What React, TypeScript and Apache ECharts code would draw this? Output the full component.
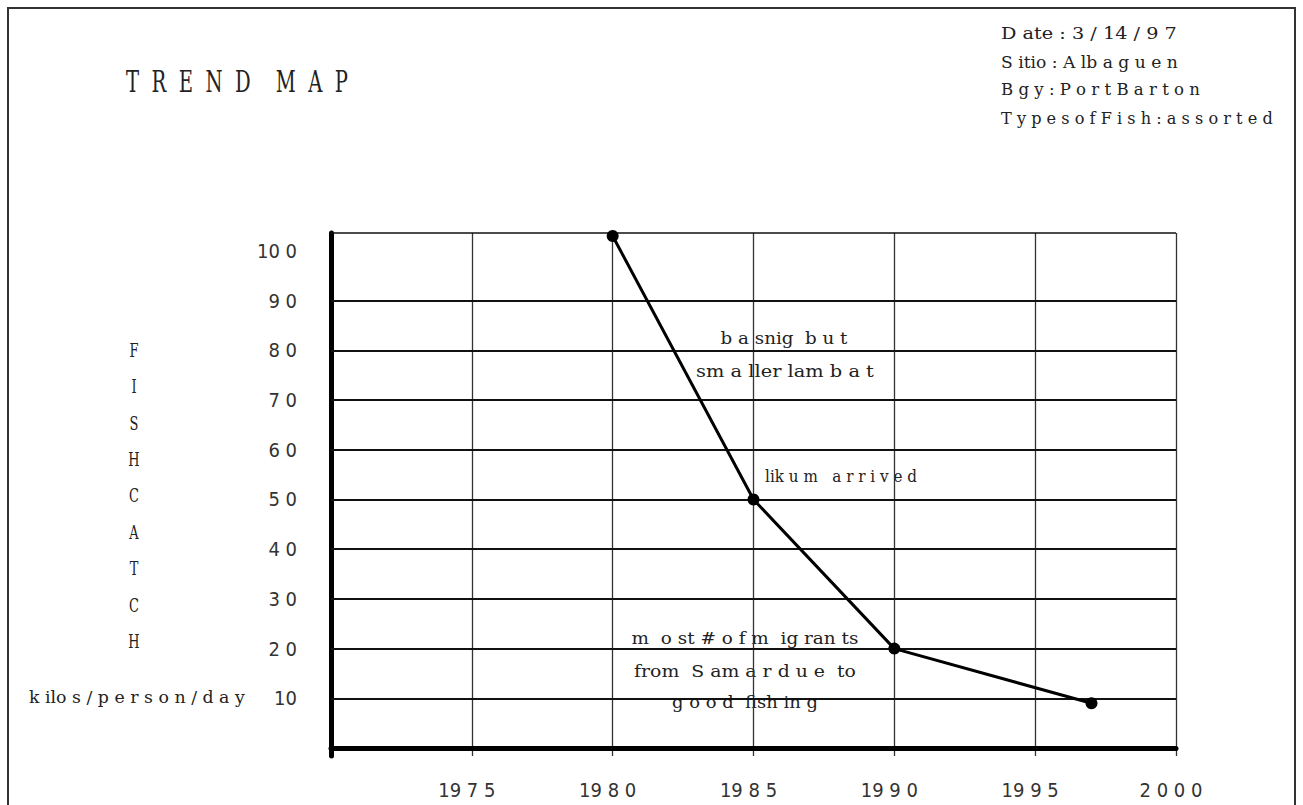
import React, { useEffect, useRef } from "react";
import * as echarts from "echarts";

// ---- data ----
const years = [1980, 1985, 1990, 1997];
const fishCatch = [103, 50, 20, 9];

const xTickValues = [1975, 1980, 1985, 1990, 1995, 2000];
const xTickLabels = ["19 7 5", "19 8 0", "19 8 5", "19 9 0", "19 9 5", "2 0 0 0"];

const yTickValues = [10, 20, 30, 40, 50, 60, 70, 80, 90, 100];
const yTickLabels = ["10", "2 0", "3 0", "4 0", "5 0", "6 0", "7 0", "8 0", "9 0", "10 0"];
const yGridValues = [10, 20, 30, 40, 50, 60, 70, 80, 90];

const yMin = -1.6;
const yMax = 103.6;

const titleText = "T  R  E  N  D    M  A  P";
const infoLines = [
  "D ate : 3 / 14 / 9 7",
  "S itio : A lb a g u e n",
  "B g y : P o r t B a r t o n",
  "T y p e s o f F i s h : a s s o r t e d",
];
const yTitleLetters = ["F", "I", "S", "H", "C", "A", "T", "C", "H"];
const unitText = "k ilo s / p e r s o n / d a y";
const notes = [
  "b a snig  b u t",
  "sm a ller lam b a t",
  "lik u m   a r r i v e d",
  "m  o st # o f m  ig ran ts",
  "from  S am a r d u e  to",
  "g o o d  fish in g",
];

const SERIF = '"DejaVu Serif", "Liberation Serif", serif';
const AXISFONT = '"Liberation Sans Narrow", "DejaVu Sans Condensed", "Liberation Sans", sans-serif';
const CAP = 0.729; // DejaVu Serif cap height / em

let measureCtx: CanvasRenderingContext2D | null = null;
function measure(text: string, fs: number): number {
  if (!measureCtx) {
    measureCtx = document.createElement("canvas").getContext("2d");
  }
  if (!measureCtx) return text.length * fs * 0.6;
  measureCtx.font = `${fs}px ${SERIF}`;
  return measureCtx.measureText(text).width;
}

function fitText(
  text: string,
  x: number,
  y: number,
  width: number | null,
  capH: number,
  align: "left" | "center" = "left",
  fixedScaleX = 0.8
) {
  const fs = Math.round(capH / CAP);
  const sx = width == null ? fixedScaleX : width / measure(text, fs);
  return {
    type: "text",
    x,
    y,
    scaleX: sx,
    scaleY: capH / (CAP * fs),
    silent: true,
    style: {
      text,
      fontFamily: SERIF,
      fontSize: fs,
      fill: "#222",
      align,
      verticalAlign: "middle",
    },
  };
}

export default function App() {
  const ref = useRef<HTMLDivElement>(null);

  useEffect(() => {
    if (!ref.current) return;
    const chart = echarts.init(ref.current, undefined, { renderer: "svg" });

    const infoPos = [
      { y: 33, w: 176 },
      { y: 62, w: 177 },
      { y: 90, w: 199 },
      { y: 118, w: 272 },
    ];
    const notePos = [
      { x: 784, y: 338, w: 127 },
      { x: 785, y: 371, w: 178 },
      { x: 841, y: 476, w: 152 },
      { x: 745, y: 638, w: 227 },
      { x: 745, y: 671, w: 222 },
      { x: 745, y: 702, w: 146 },
    ];

    const graphics: any[] = [
      {
        type: "rect",
        silent: true,
        shape: { x: 8, y: 8, width: 1287, height: 840 },
        style: { fill: "none", stroke: "#333", lineWidth: 2 },
      },
      fitText(titleText, 126, 81, 222, 22),
      ...infoLines.map((t, i) => fitText(t, 1001, infoPos[i].y, infoPos[i].w, 12)),
      ...yTitleLetters.map((t, i) => fitText(t, 134, 351 + i * 36.4, null, 13, "center", 0.72)),
      fitText(unitText, 29, 697, 216, 12),
      ...notes.map((t, i) => fitText(t, notePos[i].x, notePos[i].y, notePos[i].w, 12, "center")),
    ];

    chart.setOption({
      animation: false,
      backgroundColor: "#fff",
      grid: { left: 331, right: 127, top: 233, bottom: 49, containLabel: false },
      xAxis: {
        type: "value",
        min: 1970,
        max: 2000,
        interval: 5,
        axisLine: { show: true, lineStyle: { color: "#000", width: 5 } },
        axisTick: { show: false },
        splitLine: { show: true, lineStyle: { color: "#333", width: 1.3 } },
        axisLabel: {
          margin: 24,
          fontFamily: AXISFONT,
          fontSize: 20,
          color: "#333",
          padding: [0, 10, 0, 0],
          formatter: (v: number) => {
            const i = xTickValues.indexOf(v);
            return i >= 0 ? xTickLabels[i] : "";
          },
        },
      },
      yAxis: {
        type: "value",
        min: yMin,
        max: yMax,
        axisLine: { show: true, lineStyle: { color: "#000", width: 5 } },
        axisTick: { show: false },
        splitLine: { show: false },
        axisLabel: {
          customValues: yTickValues,
          margin: 34,
          fontFamily: AXISFONT,
          fontSize: 20,
          color: "#333",
          formatter: (v: number) => {
            const i = yTickValues.indexOf(v);
            return i >= 0 ? yTickLabels[i] : "";
          },
        },
      },
      graphic: graphics,
      series: [
        {
          type: "line",
          data: years.map((y, i) => [y, fishCatch[i]]),
          symbol: "circle",
          symbolSize: 12,
          showSymbol: true,
          lineStyle: { color: "#000", width: 3 },
          itemStyle: { color: "#000" },
          z: 5,
          markLine: {
            silent: true,
            symbol: ["none", "none"],
            label: { show: false },
            lineStyle: { color: "#111", width: 2, type: "solid" },
            data: [
              ...yGridValues.map((v) => ({ yAxis: v })),
              { yAxis: yMax, lineStyle: { color: "#111", width: 1.5, type: "solid" } },
            ],
          },
        },
      ],
    });

    return () => chart.dispose();
  }, []);

  return (
    <div
      ref={ref}
      style={{ position: "absolute", left: 0, top: 0, width: 1303, height: 805 }}
    />
  );
}
